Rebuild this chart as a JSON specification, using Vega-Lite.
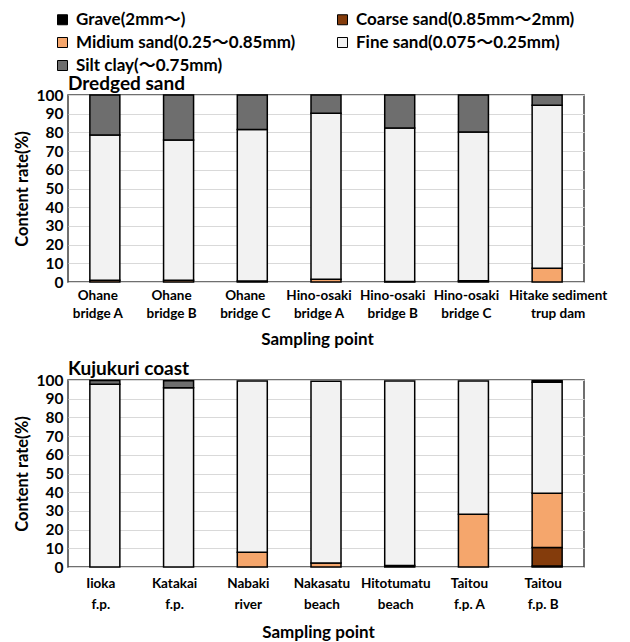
{
  "$schema": "https://vega.github.io/schema/vega-lite/v6.json",
  "padding": {"left": 13, "top": 10, "right": 10, "bottom": 2},
  "background": "white",
  "config": {
    "font": "Lato, Noto Sans CJK JP",
    "view": {"stroke": "#404040", "strokeWidth": 1.5},
    "axis": {"labelFont": "Lato, Noto Sans CJK JP", "titleFont": "Lato", "labelColor": "#000", "titleColor": "#000", "labelFontWeight": "bold", "titleFontWeight": "bold"},
    "title": {"font": "Lato", "fontWeight": "bold", "color": "#000", "anchor": "start", "frame": "group"},
    "concat": {"spacing": 10}
  },
  "datasets": {
    "dredged": [
      {"site": "Ohane|bridge A", "type": "Midium sand(0.25〜0.85mm)", "value": 1.0},
      {"site": "Ohane|bridge A", "type": "Fine sand(0.075〜0.25mm)", "value": 77.6},
      {"site": "Ohane|bridge A", "type": "Silt clay(〜0.75mm)", "value": 21.4},
      {"site": "Ohane|bridge B", "type": "Midium sand(0.25〜0.85mm)", "value": 1.0},
      {"site": "Ohane|bridge B", "type": "Fine sand(0.075〜0.25mm)", "value": 75.0},
      {"site": "Ohane|bridge B", "type": "Silt clay(〜0.75mm)", "value": 24.0},
      {"site": "Ohane|bridge C", "type": "Midium sand(0.25〜0.85mm)", "value": 0.5},
      {"site": "Ohane|bridge C", "type": "Fine sand(0.075〜0.25mm)", "value": 81.0},
      {"site": "Ohane|bridge C", "type": "Silt clay(〜0.75mm)", "value": 18.5},
      {"site": "Hino-osaki|bridge A", "type": "Midium sand(0.25〜0.85mm)", "value": 1.5},
      {"site": "Hino-osaki|bridge A", "type": "Fine sand(0.075〜0.25mm)", "value": 88.7},
      {"site": "Hino-osaki|bridge A", "type": "Silt clay(〜0.75mm)", "value": 9.8},
      {"site": "Hino-osaki|bridge B", "type": "Midium sand(0.25〜0.85mm)", "value": 0.3},
      {"site": "Hino-osaki|bridge B", "type": "Fine sand(0.075〜0.25mm)", "value": 82.0},
      {"site": "Hino-osaki|bridge B", "type": "Silt clay(〜0.75mm)", "value": 17.7},
      {"site": "Hino-osaki|bridge C", "type": "Midium sand(0.25〜0.85mm)", "value": 0.7},
      {"site": "Hino-osaki|bridge C", "type": "Fine sand(0.075〜0.25mm)", "value": 79.5},
      {"site": "Hino-osaki|bridge C", "type": "Silt clay(〜0.75mm)", "value": 19.8},
      {"site": "Hitake sediment|trup dam", "type": "Midium sand(0.25〜0.85mm)", "value": 7.3},
      {"site": "Hitake sediment|trup dam", "type": "Fine sand(0.075〜0.25mm)", "value": 87.2},
      {"site": "Hitake sediment|trup dam", "type": "Silt clay(〜0.75mm)", "value": 5.5}
    ],
    "coast": [
      {"site": "Iioka|f.p.", "type": "Fine sand(0.075〜0.25mm)", "value": 97.7},
      {"site": "Iioka|f.p.", "type": "Silt clay(〜0.75mm)", "value": 2.0},
      {"site": "Katakai|f.p.", "type": "Fine sand(0.075〜0.25mm)", "value": 95.9},
      {"site": "Katakai|f.p.", "type": "Silt clay(〜0.75mm)", "value": 3.7},
      {"site": "Nabaki|river", "type": "Midium sand(0.25〜0.85mm)", "value": 7.9},
      {"site": "Nabaki|river", "type": "Fine sand(0.075〜0.25mm)", "value": 91.6},
      {"site": "Nakasatu|beach", "type": "Midium sand(0.25〜0.85mm)", "value": 2.1},
      {"site": "Nakasatu|beach", "type": "Fine sand(0.075〜0.25mm)", "value": 97.2},
      {"site": "Hitotumatu|beach", "type": "Coarse sand(0.85mm〜2mm)", "value": 0.8},
      {"site": "Hitotumatu|beach", "type": "Fine sand(0.075〜0.25mm)", "value": 98.7},
      {"site": "Taitou|f.p. A", "type": "Midium sand(0.25〜0.85mm)", "value": 28.2},
      {"site": "Taitou|f.p. A", "type": "Fine sand(0.075〜0.25mm)", "value": 71.3},
      {"site": "Taitou|f.p. B", "type": "Grave(2mm〜)", "value": 0.5},
      {"site": "Taitou|f.p. B", "type": "Coarse sand(0.85mm〜2mm)", "value": 9.9},
      {"site": "Taitou|f.p. B", "type": "Midium sand(0.25〜0.85mm)", "value": 29.1},
      {"site": "Taitou|f.p. B", "type": "Fine sand(0.075〜0.25mm)", "value": 59.3},
      {"site": "Taitou|f.p. B", "type": "Silt clay(〜0.75mm)", "value": 0.8}
    ]
  },
  "vconcat": [
    {
      "title": {"text": "Dredged sand", "fontSize": 19, "offset": 4, "dy": 87},
      "data": {"name": "dredged"},
      "width": 516,
      "height": 187,
      "transform": [{"calculate": "indexof(['Grave(2mm〜)','Coarse sand(0.85mm〜2mm)','Midium sand(0.25〜0.85mm)','Fine sand(0.075〜0.25mm)','Silt clay(〜0.75mm)'], datum.type)", "as": "ord"}],
      "mark": {"type": "bar", "width": 30, "stroke": "#000", "strokeWidth": 1.5},
      "encoding": {
        "x": {"field": "site", "type": "nominal", "sort": null,
          "axis": {"title": "Sampling point", "titleX": 249, "titleFontSize": 17, "titlePadding": 12, "labelAngle": 0, "labelExpr": "split(datum.label, '|')", "labelFontSize": 13.5, "labelLineHeight": 18, "labelPadding": 6, "ticks": false, "domain": false, "labelLimit": 200, "labelOverlap": false,
            "labelOffset": {"condition": {"test": "datum.value === 'Hitake sediment|trup dam'", "value": 11}, "value": -7}}},
        "y": {"field": "value", "type": "quantitative", "stack": "zero", "scale": {"domain": [0, 100]},
          "axis": {"title": "Content rate(%)", "titleFontSize": 16.5, "titlePadding": 6, "labelFontSize": 15.5, "labelPadding": 5, "ticks": false, "domain": false, "gridColor": "#d9d9d9", "values": [0, 10, 20, 30, 40, 50, 60, 70, 80, 90, 100]}},
        "color": {"field": "type", "type": "nominal",
          "scale": {"domain": ["Grave(2mm〜)", "Coarse sand(0.85mm〜2mm)", "Midium sand(0.25〜0.85mm)", "Fine sand(0.075〜0.25mm)", "Silt clay(〜0.75mm)"],
            "range": ["#000000", "#843c0c", "#f5a66c", "#f2f2f2", "#6e6e6e"]},
          "legend": {"title": null, "orient": "none", "legendX": -14, "legendY": -84, "direction": "horizontal", "columns": 2, "columnPadding": 38, "rowPadding": 5, "symbolType": "square", "symbolSize": 100, "symbolStrokeColor": "#000", "symbolStrokeWidth": 1, "symbolOpacity": 1, "labelFontSize": 17, "labelFontWeight": "bold", "labelColor": "#000", "labelOffset": 5, "labelLimit": 400}},
        "order": {"field": "ord", "type": "quantitative"}
      }
    },
    {
      "title": {"text": "Kujukuri coast", "fontSize": 19, "offset": 6, "dy": 12},
      "data": {"name": "coast"},
      "width": 516,
      "height": 187,
      "transform": [{"calculate": "indexof(['Grave(2mm〜)','Coarse sand(0.85mm〜2mm)','Midium sand(0.25〜0.85mm)','Fine sand(0.075〜0.25mm)','Silt clay(〜0.75mm)'], datum.type)", "as": "ord"}],
      "mark": {"type": "bar", "width": 30, "stroke": "#000", "strokeWidth": 1.5},
      "encoding": {
        "x": {"field": "site", "type": "nominal", "sort": null,
          "axis": {"title": "Sampling point", "titleX": 250, "titleFontSize": 17, "titlePadding": 14, "labelAngle": 0, "labelExpr": "split(datum.label, '|')", "labelFontSize": 13.5, "labelLineHeight": 21, "labelPadding": 9, "ticks": false, "domain": false, "labelLimit": 200, "labelOverlap": false,
            "labelOffset": -4}},
        "y": {"field": "value", "type": "quantitative", "stack": "zero", "scale": {"domain": [0, 100]},
          "axis": {"title": "Content rate(%)", "titleFontSize": 16.5, "titlePadding": 6, "labelFontSize": 15.5, "labelPadding": 5, "ticks": false, "domain": false, "gridColor": "#d9d9d9", "values": [0, 10, 20, 30, 40, 50, 60, 70, 80, 90, 100]}},
        "color": {"field": "type", "type": "nominal",
          "scale": {"domain": ["Grave(2mm〜)", "Coarse sand(0.85mm〜2mm)", "Midium sand(0.25〜0.85mm)", "Fine sand(0.075〜0.25mm)", "Silt clay(〜0.75mm)"],
            "range": ["#000000", "#843c0c", "#f5a66c", "#f2f2f2", "#6e6e6e"]},
          "legend": null},
        "order": {"field": "ord", "type": "quantitative"}
      }
    }
  ],
  "resolve": {"legend": {"color": "independent"}}
}
